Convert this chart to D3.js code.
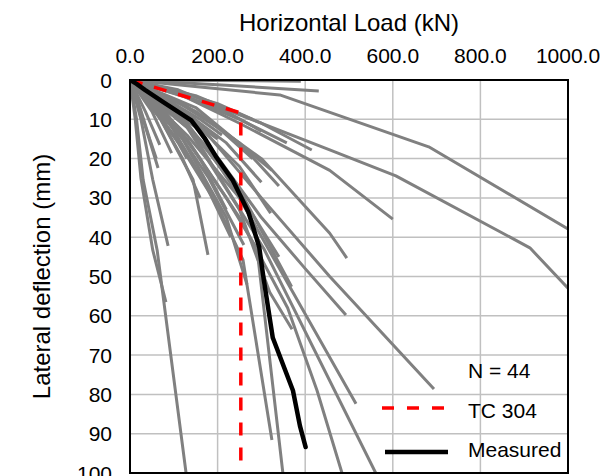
<!DOCTYPE html>
<html>
<head>
<meta charset="utf-8">
<script src="https://cdn.jsdelivr.net/npm/d3@7"></script>
<style>
  html, body { margin: 0; padding: 0; background: #fff; }
  svg { display: block; font-family: "Liberation Sans", Arial, sans-serif; }
</style>
</head>
<body>
<div id="chart"></div>
<script>
// load (kN) vs lateral deflection (mm)

const xTicks = [0, 200, 400, 600, 800, 1000];
const yTicks = [0, 10, 20, 30, 40, 50, 60, 70, 80, 90, 100];

// each pile test: [load, deflection] pairs
const pileCurves = [
  [[0, 0], [390, 0.3]],
  [[0, 0], [200, 1.2], [431, 2.8]],
  [[0, 0], [160, 1.8], [342, 3.8], [682, 17], [1000, 37.9]],
  [[0, 0], [110, 2.5], [228, 7.9], [456, 17.8], [607, 24.4], [913, 42.7], [1000, 53]],
  [[0, 0], [120, 4], [250, 11], [456, 23], [600, 35.4]],
  [[0, 0], [150, 8], [300, 20], [456, 39], [495, 45.3]],
  [[0, 0], [150, 4], [300, 11], [415, 17.8]],
  [[0, 0], [130, 4.5], [250, 10], [358, 16]],
  [[0, 0], [140, 9], [300, 30], [456, 50], [694, 78.6]],
  [[0, 0], [150, 12], [300, 35], [400, 48], [493, 59.8]],
  [[0, 0], [130, 14], [250, 30], [316, 43], [516, 82.4]],
  [[0, 0], [130, 15], [250, 35], [360, 58], [427, 79], [484, 100]],
  [[0, 0], [140, 13], [306, 43], [561, 100]],
  [[0, 0], [110, 12], [220, 30], [290, 43], [349, 100]],
  [[0, 0], [15, 10], [30, 25.4], [62, 43.3], [128, 100]],
  [[0, 0], [12, 10], [25, 25], [52, 43.3], [82, 56.5]],
  [[0, 0], [25, 10], [52, 25.4], [87, 42.2]],
  [[0, 0], [70, 10], [144, 25.4], [178, 44.5]],
  [[0, 0], [35, 8], [68, 16.5]],
  [[0, 0], [50, 8], [95, 18.6]],
  [[0, 0], [30, 10], [64, 22.4]],
  [[0, 0], [120, 15], [220, 35], [267, 52]],
  [[0, 0], [100, 14], [200, 32], [258, 45.8], [324, 91.6]],
  [[0, 0], [130, 12], [250, 33], [319, 54], [370, 63.4]],
  [[0, 0], [130, 11], [260, 30], [369, 52.6]],
  [[0, 0], [150, 7], [324, 23]],
  [[0, 0], [140, 10], [250, 22], [321, 33.9]],
  [[0, 0], [100, 5], [200, 12], [280, 20]],
  [[0, 0], [100, 6], [220, 16], [300, 26]],
  [[0, 0], [90, 7], [180, 18], [240, 28]],
  [[0, 0], [80, 8], [160, 20], [220, 33]],
  [[0, 0], [90, 10], [180, 25], [260, 42]],
  [[0, 0], [100, 8], [200, 20], [290, 38]],
  [[0, 0], [60, 8], [120, 20], [160, 30]],
  [[0, 0], [50, 6], [110, 16], [130, 20]],
  [[0, 0], [120, 6], [250, 16], [340, 27]],
  [[0, 0], [100, 3], [220, 8], [300, 13]],
  [[0, 0], [80, 2], [200, 6], [280, 10]],
  [[0, 0], [70, 4], [160, 10], [210, 14]],
  [[0, 0], [40, 5], [90, 13], [120, 17]],
  [[0, 0], [60, 4], [150, 11], [200, 15]],
  [[0, 0], [90, 11], [170, 26], [230, 40]],
  [[0, 0], [120, 10], [240, 27], [340, 45]],
  [[0, 0], [20, 6], [45, 15], [60, 20]]
];

const tc304 = [[0, 0], [253, 8.4], [253, 100]];

const measured = [
  [0, 0], [15, 1], [34, 2.5], [76, 5.6], [140, 10.3], [170, 14.7], [198, 19.8],
  [234, 25.4], [270, 33.5], [295, 42.5], [305, 50.5], [326, 65.6], [372, 79],
  [388, 88], [401, 93.4]
];

const legendNote = "N = " + pileCurves.length;
const legendItems = ["TC 304", "Measured"];

const width = 611;
const height = 476;
const margin = { top: 80, right: 43, bottom: 3, left: 130 };

const x = d3.scaleLinear()
  .domain([0, 1000])
  .range([margin.left, width - margin.right]);

const y = d3.scaleLinear()
  .domain([0, 100])
  .range([margin.top, height - margin.bottom]);

const svg = d3.select("#chart")
  .append("svg")
  .attr("width", width)
  .attr("height", height);

svg.append("defs").append("clipPath")
  .attr("id", "plot-clip")
  .append("rect")
  .attr("x", x(0))
  .attr("y", y(0))
  .attr("width", x(1000) - x(0))
  .attr("height", y(100) - y(0));

// grid
svg.append("g")
  .selectAll("line")
  .data(xTicks.slice(1, -1))
  .join("line")
  .attr("x1", (d) => x(d))
  .attr("x2", (d) => x(d))
  .attr("y1", y(0))
  .attr("y2", y(100))
  .attr("stroke", "#c0c0c0")
  .attr("stroke-width", 1.5);

svg.append("g")
  .selectAll("line")
  .data(yTicks.slice(1, -1))
  .join("line")
  .attr("x1", x(0))
  .attr("x2", x(1000))
  .attr("y1", (d) => y(d))
  .attr("y2", (d) => y(d))
  .attr("stroke", "#c0c0c0")
  .attr("stroke-width", 1.5);

const line = d3.line()
  .x((d) => x(d[0]))
  .y((d) => y(d[1]));

const plot = svg.append("g").attr("clip-path", "url(#plot-clip)");

plot.append("g")
  .selectAll("path")
  .data(pileCurves)
  .join("path")
  .attr("d", line)
  .attr("fill", "none")
  .attr("stroke", "#808080")
  .attr("stroke-width", 3)
  .attr("stroke-linejoin", "round");

plot.append("path")
  .attr("d", line(tc304))
  .attr("fill", "none")
  .attr("stroke", "#ff0000")
  .attr("stroke-width", 3.5)
  .attr("stroke-dasharray", "13,12");

plot.append("path")
  .attr("d", line(measured))
  .attr("fill", "none")
  .attr("stroke", "#000")
  .attr("stroke-width", 4.5)
  .attr("stroke-linejoin", "round")
  .attr("stroke-linecap", "round");

// frame
svg.append("rect")
  .attr("x", x(0))
  .attr("y", y(0))
  .attr("width", x(1000) - x(0))
  .attr("height", y(100) - y(0))
  .attr("fill", "none")
  .attr("stroke", "#000")
  .attr("stroke-width", 2);

// tick labels
svg.append("g")
  .selectAll("text")
  .data(xTicks)
  .join("text")
  .attr("x", (d) => x(d))
  .attr("y", 63)
  .attr("text-anchor", "middle")
  .style("font-size", "21px")
  .text((d) => d.toFixed(1));

svg.append("g")
  .selectAll("text")
  .data(yTicks)
  .join("text")
  .attr("x", 112)
  .attr("y", (d) => y(d))
  .attr("dy", "0.36em")
  .attr("text-anchor", "end")
  .style("font-size", "21px")
  .text((d) => d);

// axis titles
svg.append("text")
  .attr("x", (x(0) + x(1000)) / 2)
  .attr("y", 31)
  .attr("text-anchor", "middle")
  .style("font-size", "24px")
  .text("Horizontal Load (kN)");

svg.append("text")
  .attr("transform", `translate(50,${(y(0) + y(100)) / 2}) rotate(-90)`)
  .attr("text-anchor", "middle")
  .style("font-size", "24px")
  .text("Lateral deflection (mm)");

// legend
const legend = svg.append("g");

legend.append("text")
  .attr("x", 468)
  .attr("y", 378)
  .style("font-size", "21px")
  .text(legendNote);

legend.append("line")
  .attr("x1", 382).attr("x2", 447)
  .attr("y1", 408).attr("y2", 408)
  .attr("stroke", "#ff0000")
  .attr("stroke-width", 3.5)
  .attr("stroke-dasharray", "12,13");

legend.append("line")
  .attr("x1", 385).attr("x2", 448)
  .attr("y1", 452).attr("y2", 452)
  .attr("stroke", "#000")
  .attr("stroke-width", 4.5);

legend.selectAll("text.item")
  .data(legendItems)
  .join("text")
  .attr("class", "item")
  .attr("x", 468)
  .attr("y", (d, i) => 418 + i * 39)
  .style("font-size", "21px")
  .text((d) => d);
</script>
</body>
</html>
